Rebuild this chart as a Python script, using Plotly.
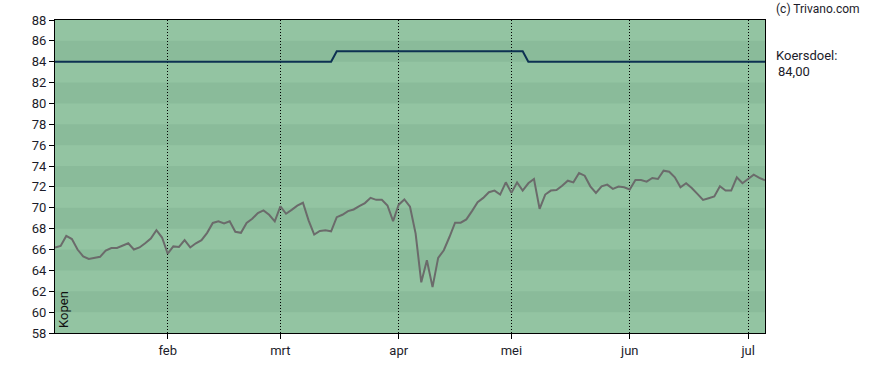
import plotly.graph_objects as go

# Closing prices (trading-day index 0..126)
price = [66.2, 66.35, 67.3, 67.0, 66.0, 65.35, 65.1, 65.2, 65.3, 65.9,
         66.15, 66.15, 66.35, 66.6, 66.0, 66.2, 66.6, 67.05, 67.85, 67.15,
         65.6, 66.3, 66.25, 66.9, 66.2, 66.6, 66.9, 67.6, 68.55, 68.7,
         68.5, 68.7, 67.7, 67.6, 68.55, 68.95, 69.5, 69.75, 69.33, 68.7,
         70.13, 69.43, 69.8, 70.2, 70.48, 68.8, 67.43, 67.78, 67.85, 67.75,
         69.1, 69.33, 69.68, 69.84, 70.16, 70.45, 70.95, 70.76, 70.76, 70.22,
         68.73, 70.3, 70.8, 70.1, 67.52, 62.86, 64.98, 62.4, 65.2, 65.93,
         67.2, 68.57, 68.57, 68.89, 69.68, 70.54, 70.95, 71.49, 71.65, 71.27,
         72.44, 71.43, 72.44, 71.65, 72.35, 72.76, 69.9, 71.27, 71.65, 71.71,
         72.12, 72.6, 72.44, 73.33, 73.08, 72.06, 71.43, 72.06, 72.22, 71.81,
         72.03, 71.97, 71.75, 72.67, 72.67, 72.51, 72.86, 72.76, 73.56, 73.46,
         72.92, 71.97, 72.35, 71.9, 71.33, 70.76, 70.92, 71.08, 72.06, 71.65,
         71.65, 72.92, 72.35, 72.76, 73.17, 72.86, 72.64]
day_index = list(range(len(price)))

# Koersdoel (price target) steps
target_x = [0, 49, 50, 83, 84, 126]
target_y = [84, 84, 85, 85, 84, 84]

# Month ticks
month_pos = [20, 40, 61, 81, 102, 123]
month_labels = ["feb", "mrt", "apr", "mei", "jun", "jul"]

y_ticks = list(range(58, 90, 2))

LIGHT = "#93c4a2"
DARK = "#8abb9a"
FONT = "Roboto, Arial, sans-serif"
TXT = "#1c1c2a"

fig = go.Figure()
fig.add_trace(go.Scatter(x=target_x, y=target_y, mode="lines",
                         line=dict(color="#0d3152", width=2), hoverinfo="skip"))
fig.add_trace(go.Scatter(x=day_index, y=price, mode="lines",
                         line=dict(color="#6b6b6b", width=2), hoverinfo="skip"))

shapes = []
for lo in range(60, 88, 4):
    shapes.append(dict(type="rect", xref="paper", yref="y", x0=0, x1=1, y0=lo, y1=lo + 2,
                       fillcolor=DARK, line=dict(width=0), layer="below"))

fig.update_layout(
    width=888, height=370,
    margin=dict(l=55, r=123, t=20, b=35),
    paper_bgcolor="white", plot_bgcolor=LIGHT,
    showlegend=False, hovermode=False,
    shapes=shapes,
    font=dict(family=FONT, size=13, color=TXT),
    xaxis=dict(range=[0, 126], tickmode="array", tickvals=month_pos, ticktext=month_labels,
               showgrid=True, gridcolor="black", gridwidth=1, griddash="1px,2px",
               showline=True, linecolor="black", linewidth=1, mirror=True,
               ticks="outside", ticklen=5, tickcolor="black", zeroline=False,
               tickfont=dict(family=FONT, size=13, color=TXT)),
    yaxis=dict(range=[58, 88], tickmode="array", tickvals=y_ticks,
               showgrid=False, showline=True, linecolor="black", linewidth=1, mirror=True,
               ticks="outside", ticklen=5, tickcolor="black", zeroline=False,
               tickfont=dict(family=FONT, size=13, color=TXT)),
    annotations=[
        dict(text="(c) Trivano.com", xref="paper", yref="paper", x=1.012, y=1.0, yshift=20,
             xanchor="left", yanchor="top", showarrow=False,
             font=dict(family=FONT, size=12, color=TXT)),
        dict(text="Koersdoel:", xref="paper", yref="paper", x=1.012, y=1.0, yshift=-26,
             xanchor="left", yanchor="top", showarrow=False,
             font=dict(family=FONT, size=13, color=TXT)),
        dict(text="84,00", xref="paper", yref="paper", x=1.015, y=1.0, yshift=-42,
             xanchor="left", yanchor="top", showarrow=False,
             font=dict(family=FONT, size=13, color=TXT)),
        dict(text="Kopen", xref="paper", yref="paper", x=0.012, y=0.01,
             xanchor="center", yanchor="bottom", textangle=-90, showarrow=False,
             font=dict(family=FONT, size=13, color="#111")),
    ],
)

fig.write_html("out.html", config={"displayModeBar": False, "staticPlot": True},
               post_script="document.body.style.margin='0';")
